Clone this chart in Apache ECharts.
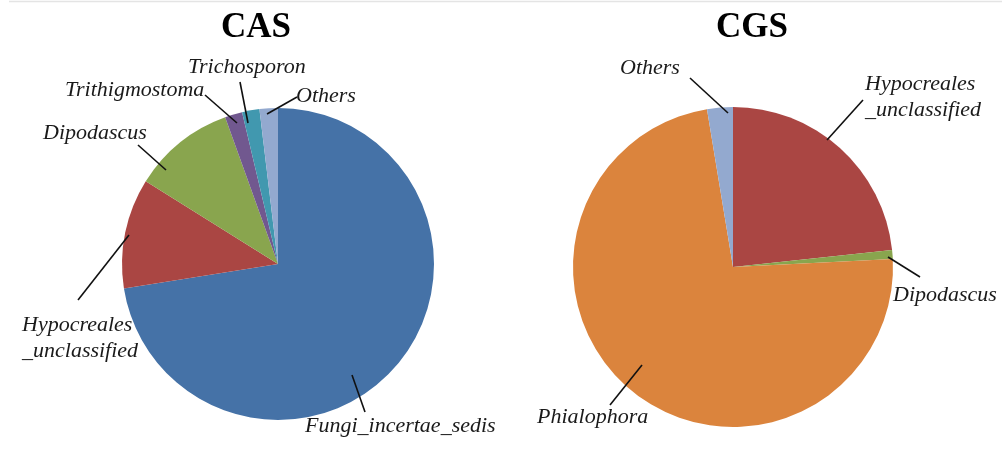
<!DOCTYPE html>
<html>
<head>
<meta charset="utf-8">
<script src="https://cdn.jsdelivr.net/npm/echarts@6/dist/echarts.min.js"></script>
<style>
  html, body { margin: 0; padding: 0; background: #ffffff; }
  #chart { width: 1002px; height: 450px; }
</style>
</head>
<body>
<div id="chart"></div>
<script>
// Fungal genus composition (% of reads) for the two sample groups
const casNames = ['Fungi_incertae_sedis', 'Hypocreales_unclassified', 'Dipodascus', 'Trithigmostoma', 'Trichosporon', 'Others'];
const casValues = [72.5, 11.4, 10.6, 1.8, 1.8, 1.9];

const cgsNames = ['Hypocreales_unclassified', 'Dipodascus', 'Phialophora', 'Others'];
const cgsValues = [23.3, 0.9, 73.2, 2.6];

// Colour per genus
const genusColors = {
  'Fungi_incertae_sedis': '#4572A7',
  'Hypocreales_unclassified': '#AA4643',
  'Dipodascus': '#89A54E',
  'Trithigmostoma': '#71588F',
  'Trichosporon': '#4198AF',
  'Phialophora': '#DB843D',
  'Others': '#93A9CF'
};

// Pie geometry
const casPie = { center: [278, 264], radius: 156 };
const cgsPie = { center: [733, 267], radius: 160 };

// Callout placement relative to each pie centre:
// text = left/middle anchor of the label, from/to = leader line ends
const casCallouts = {
  'Fungi_incertae_sedis':     { text: [27, 162],   from: [74, 111],   to: [87, 148] },
  'Hypocreales_unclassified': { text: [-256, 74],  from: [-149, -29], to: [-200, 36] },
  'Dipodascus':               { text: [-235, -131], from: [-112, -94], to: [-140, -119] },
  'Trithigmostoma':           { text: [-213, -174], from: [-41, -141], to: [-73, -169] },
  'Trichosporon':             { text: [-90, -197], from: [-30, -141], to: [-38, -182] },
  'Others':                   { text: [18, -168],  from: [-11, -150], to: [19, -167] }
};
const cgsCallouts = {
  'Hypocreales_unclassified': { text: [132, -170], from: [94, -127],  to: [130, -167] },
  'Dipodascus':               { text: [160, 28],   from: [155, -10],  to: [187, 10] },
  'Phialophora':              { text: [-196, 150], from: [-91, 98],   to: [-123, 138] },
  'Others':                   { text: [-113, -199], from: [-5, -154], to: [-43, -189] }
};

function toItems(names, values, colored) {
  return names.map((n, i) => ({
    name: n,
    value: values[i],
    itemStyle: { color: colored ? genusColors[n] : 'rgba(0,0,0,0)' }
  }));
}

function calloutLayout(pie, callouts, names) {
  return function (params) {
    const c = callouts[names[params.dataIndex]];
    const cx = pie.center[0], cy = pie.center[1];
    return {
      x: cx + c.text[0],
      y: cy + c.text[1],
      align: 'left',
      verticalAlign: 'middle',
      labelLinePoints: [
        [cx + c.from[0], cy + c.from[1]],
        [cx + c.to[0], cy + c.to[1]]
      ]
    };
  };
}

const labelStyle = {
  show: true,
  position: 'outside',
  fontFamily: '"Liberation Serif", "DejaVu Serif", serif',
  fontStyle: 'italic',
  fontSize: 22,
  lineHeight: 26,
  color: '#1a1a1a',
  formatter: (p) => p.name.replace('_unclassified', '\n_unclassified')
};
const lineStyle = {
  show: true,
  smooth: false,
  length: 10,
  length2: 0,
  lineStyle: { color: '#111111', width: 1.6 }
};

// Filled slices
function slicesSeries(pie, names, values) {
  return {
    type: 'pie',
    z: 2,
    center: pie.center,
    radius: pie.radius,
    startAngle: 90,
    clockwise: true,
    silent: true,
    label: { show: false },
    labelLine: { show: false },
    data: toItems(names, values, true)
  };
}

// Transparent copy on top carrying the callouts, so leader lines run into the slices
function calloutSeries(pie, names, values, callouts) {
  return {
    type: 'pie',
    z: 5,
    center: pie.center,
    radius: pie.radius,
    startAngle: 90,
    clockwise: true,
    silent: true,
    avoidLabelOverlap: false,
    label: labelStyle,
    labelLine: lineStyle,
    labelLayout: calloutLayout(pie, callouts, names),
    data: toItems(names, values, false)
  };
}

const titleText = {
  fontFamily: '"Liberation Serif", serif',
  fontWeight: 'bold',
  fontSize: 35,
  color: '#000000'
};

const chart = echarts.init(document.getElementById('chart'), null, { renderer: 'canvas' });
chart.setOption({
  animation: false,
  backgroundColor: '#ffffff',
  title: [
    { text: 'CAS', left: 251, top: 5, textAlign: 'center', textStyle: titleText },
    { text: 'CGS', left: 747, top: 5, textAlign: 'center', textStyle: titleText }
  ],
  graphic: [
    { type: 'line', shape: { x1: 9, y1: 1.5, x2: 1002, y2: 1.5 }, style: { stroke: '#e4e4e4', lineWidth: 1.5 } }
  ],
  series: [
    slicesSeries(casPie, casNames, casValues),
    slicesSeries(cgsPie, cgsNames, cgsValues),
    calloutSeries(casPie, casNames, casValues, casCallouts),
    calloutSeries(cgsPie, cgsNames, cgsValues, cgsCallouts)
  ]
});
</script>
</body>
</html>
